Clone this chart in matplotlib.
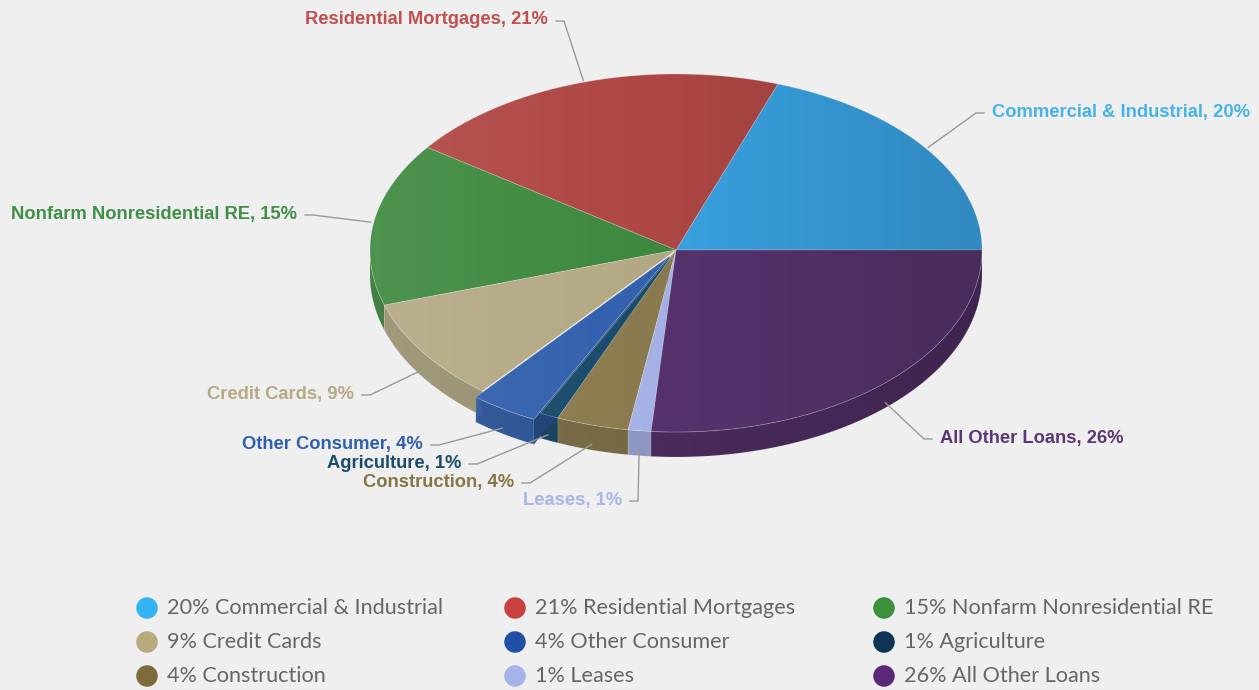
"""Loan composition - 3D pie recreated with plain matplotlib patches"""
import numpy as np
import matplotlib
matplotlib.use("Agg")
import matplotlib.pyplot as plt
from matplotlib.patches import Polygon
from matplotlib import font_manager

# Data
categories = ["Commercial & Industrial", "Residential Mortgages", "Nonfarm Nonresidential RE",
              "Credit Cards", "Other Consumer", "Agriculture", "Construction", "Leases",
              "All Other Loans"]
shares = [19.6, 20.5, 14.8, 9.2, 3.6, 1.0, 3.8, 1.2, 26.3]
shown_pct = [20, 21, 15, 9, 4, 1, 4, 1, 26]

slice_colors = ['#3aa4e4', '#b04846', '#3f8a40', '#b5aa86', '#3462ae',
                '#1b4c6b', '#8c7c50', '#a8b4e8', '#58346f']
label_colors = ['#45b2ee', '#c24f4d', '#3f8f46', '#b5aa84', '#2f5fae',
                '#1b4c6b', '#857545', '#a9b6ea', '#5a3676']
legend_colors = ['#33b4f5', '#c9403f', '#3c8f3c', '#b7ab7e', '#1f4fa6',
                 '#0e3353', '#7d6b3c', '#a6b3e8', '#5a2a78']

# Layout (pixels)
BG = '#efefef'
CX, CY = 676, 250
RX, RY_TOP, RY_BOT = 306, 176, 182
DEPTH = 25
EXPLODE = {4: 0.04}
label_pos = [(992, 112, 'left'), (548, 20, 'right'), (297, 214, 'right'),
             (354, 394, 'right'), (423, 444, 'right'), (461, 463, 'right'),
             (514, 482, 'right'), (622, 500, 'right'), (940, 438, 'left')]
legend_x = [147, 515, 884]
legend_y = [608, 642, 676]

names = {f.name for f in font_manager.fontManager.ttflist}
if 'Liberation Sans Narrow' in names:
    lab_font, lab_size = 'Liberation Sans Narrow', 16
else:
    lab_font, lab_size = 'Liberation Sans', 13.2


def ell(t, r=1.0):
    t = np.asarray(t, dtype=float)
    s = np.sin(t)
    ry = np.where(s >= 0, RY_TOP, RY_BOT)
    return CX + RX * r * np.cos(t), CY - ry * r * s


def shade(ax, patch, z):
    # light on the left, darker on the right, like the original gradient
    u = np.linspace(0, 1, 256)
    g = np.zeros((1, 256, 4))
    left = u < 0.4
    g[0, left, :3] = 1.0
    g[0, left, 3] = 0.08 * (1 - u[left] / 0.4)
    g[0, ~left, 3] = 0.17 * (u[~left] - 0.4) / 0.6
    im = ax.imshow(g, extent=[CX - RX - 10, CX + RX + 10, CY + RY_BOT + DEPTH + 10, CY - RY_TOP - 10],
                   aspect='auto', zorder=z, interpolation='bilinear')
    im.set_clip_path(patch)


def darker(c, f):
    r, g, b = matplotlib.colors.to_rgb(c)
    return (r * f, g * f, b * f)


fig = plt.figure(figsize=(12.59, 6.90), dpi=100, facecolor=BG)
ax = fig.add_axes([0, 0, 1, 1])
ax.set_xlim(0, 1259)
ax.set_ylim(690, 0)
ax.axis('off')
ax.set_facecolor(BG)

fracs = np.array(shares) / sum(shares)
bounds = np.concatenate([[0], np.cumsum(fracs)]) * 2 * np.pi

for i, cat in enumerate(categories):
    a0, a1 = bounds[i], bounds[i + 1]
    mid = (a0 + a1) / 2
    ox, oy = 0.0, 0.0
    if i in EXPLODE:
        ex, ey = ell(mid, EXPLODE[i])
        ox, oy = ex - CX, ey - CY

    # outer wall (only the front half is visible)
    w0, w1 = max(a0, np.pi), min(a1, 2 * np.pi)
    if w1 > w0:
        t = np.linspace(w0, w1, 80)
        xs, ys = ell(t)
        pts = np.column_stack([np.r_[xs, xs[::-1]] + ox,
                               np.r_[ys, ys[::-1] + DEPTH] + oy])
        wall = Polygon(pts, closed=True, facecolor=darker(slice_colors[i], 0.85),
                       edgecolor=(1, 1, 1, 0.15), lw=0.6, zorder=2)
        ax.add_patch(wall)
        shade(ax, wall, 2.5)

    # radial face that shows because the slice is pulled out
    if i in EXPLODE:
        ex, ey = ell(a1)
        pts = np.array([[CX, CY], [ex, ey], [ex, ey + DEPTH], [CX, CY + DEPTH]]) + [ox, oy]
        ax.add_patch(Polygon(pts, closed=True, facecolor=darker(slice_colors[i], 0.7),
                             edgecolor='none', zorder=3))

    # top face
    t = np.linspace(a0, a1, max(int(200 * (a1 - a0)), 8))
    xs, ys = ell(t)
    pts = np.column_stack([np.r_[CX, xs] + ox, np.r_[CY, ys] + oy])
    top = Polygon(pts, closed=True, facecolor=slice_colors[i],
                  edgecolor=(1, 1, 1, 0.25), lw=0.6, zorder=4)
    ax.add_patch(top)
    shade(ax, top, 4.5)

    # data label + connector
    lx, ly, ha = label_pos[i]
    axp, ayp = ell(mid, 1.01)
    axp, ayp = float(axp) + ox, float(ayp) + oy
    if np.sin(mid) < 0:
        ayp += DEPTH * 0.7
    sx = lx - 8 if ha == 'left' else lx + 8
    kx = sx - 8 if ha == 'left' else sx + 8
    ax.plot([sx, kx, axp], [ly + 1, ly + 1, ayp], color='#999999', lw=1, zorder=5,
            solid_joinstyle='round')
    ax.text(lx, ly, f"{cat}, {shown_pct[i]}%", ha=ha, va='center', color=label_colors[i],
            fontsize=lab_size, fontweight='bold', family=[lab_font, 'DejaVu Sans'], zorder=6)

# legend, three per row
for i, cat in enumerate(categories):
    x = legend_x[i % 3]
    y = legend_y[i // 3]
    ax.scatter([x], [y], s=240, color=legend_colors[i], edgecolors='none', zorder=6)
    ax.text(x + 20, y, f"{shown_pct[i]}% {cat}", ha='left', va='center', color='#666666',
            fontsize=15.6, family=['Lato', 'DejaVu Sans'], zorder=6)

fig.savefig('out.png', dpi=100, facecolor=BG)
